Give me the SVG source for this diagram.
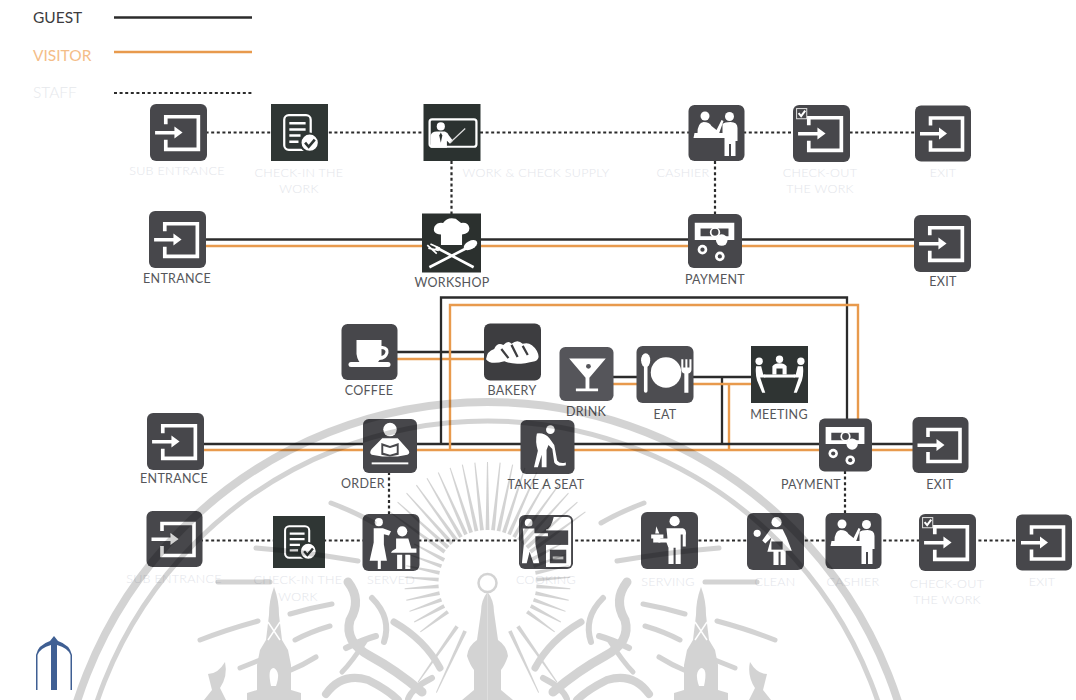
<svg xmlns="http://www.w3.org/2000/svg" xmlns:xlink="http://www.w3.org/1999/xlink" width="1076" height="700" viewBox="0 0 1076 700">
<style>
text{font-family:"Lato","Liberation Sans",sans-serif;font-size:12.500px;letter-spacing:.3px;text-anchor:middle}
.g{fill:#55565a}.s{fill:#e3e5ea;font-weight:300}
.k{stroke:#2b2b2b;stroke-width:2.300;fill:none}.o{stroke:#e89a4d;stroke-width:2.400;fill:none}.d{stroke:#2b2b2b;stroke-width:2.200;stroke-dasharray:3 2.600;fill:none}
.w{fill:#fff}
.wm{opacity:.17}
.st{fill:none;stroke:#000;stroke-linecap:round}
</style>
<defs>
<g id="arrow"><path d="M15.500 20V12.500H47.500V44.500H15.500V35" fill="none" stroke="#fff" stroke-width="3.600"/><path d="M5 26.500H24V22L32 28L24 34V30H5Z" fill="#fff"/></g>
<symbol id="i-exit" viewBox="0 0 56 56"><rect width="56" height="56" rx="6" fill="#47474b"/><use href="#arrow"/></symbol>
<symbol id="i-out" viewBox="0 0 56 56"><rect width="56" height="56" rx="6" fill="#47474b"/><use href="#arrow"/><rect x="3.500" y="3.500" width="10" height="10" fill="none" stroke="#ddd" stroke-width="1"/><path d="M5.500 8L8 11L12 5.500" stroke="#fff" stroke-width="2" fill="none"/></symbol>
<symbol id="i-doc" viewBox="0 0 56 56"><rect width="56" height="56" fill="#2f3634"/><rect x="13" y="11" width="26" height="34" rx="4.500" fill="none" stroke="#fff" stroke-width="2.200"/><path d="M18 19H34M18 25H34M18 31H29M18 37H27" stroke="#fff" stroke-width="2.400"/><circle cx="38" cy="38" r="9" fill="#fff" stroke="#2f3634" stroke-width="2"/><path d="M33.500 38L37 42L43 35" fill="none" stroke="#2f3634" stroke-width="2.600"/></symbol>
<symbol id="i-teach" viewBox="0 0 56 56"><rect width="56" height="56" fill="#2b3230"/><rect x="6" y="15" width="46" height="27" rx="2.500" fill="none" stroke="#fff" stroke-width="2.200"/><circle cx="17" cy="22" r="4" class="w"/><path d="M7 43V31Q8 27 13 27H21Q24 28 25 31L29 36L26 39L23 36V43Z" class="w"/><path d="M17 28L15.500 31L17 38L18.500 31Z" fill="#2b3230"/><path d="M26 38L41 24" stroke="#ddd" stroke-width="1.200"/></symbol>
<symbol id="i-cash" viewBox="0 0 56 56"><rect width="56" height="56" rx="6" fill="#47474b"/><circle cx="16.500" cy="11" r="4.500" class="w"/><circle cx="41" cy="11.500" r="4.500" class="w"/><path d="M9 28Q9 18 15 17Q21 17 23 21L28 25L33 15L35 16L30 30H9Z" class="w"/><path d="M6 28H34V19Q36 17 42 17Q49 17 49 23V36H47V51H42.500V39H40.500V51H36V33H5Z" class="w"/></symbol>
<symbol id="i-pay" viewBox="0 0 56 56"><rect width="56" height="56" rx="6" fill="#47474b"/><path d="M7 9H48V27H38V23H42V15H13V23H30V27H7Z" class="w"/><circle cx="28" cy="19" r="4.500" fill="none" stroke="#fff" stroke-width="1.800"/><circle cx="35" cy="27" r="6" class="w"/><circle cx="15" cy="37" r="5" class="w"/><circle cx="15" cy="37" r="2.200" fill="#47474b"/><circle cx="33" cy="44" r="5" class="w"/><circle cx="33" cy="44" r="2.200" fill="#47474b"/></symbol>
<symbol id="i-shop" viewBox="0 0 56 56"><rect width="56" height="56" fill="#2b302e"/><path d="M18 30V20Q9 19 12 12Q15 8 20 9Q24 3 32 5Q36 8 37 9Q44 8 45 14Q45 19 38 20V30Z" class="w"/><path d="M7 51L44 32M49 51L13 32" stroke="#fff" stroke-width="2.500"/><ellipse cx="46" cy="30" rx="7" ry="4" transform="rotate(-28 46 30)" class="w"/><path d="M6 33L16 35M8 29L17 33M5 30L14 38" stroke="#fff" stroke-width="1.600"/></symbol>
<symbol id="i-coffee" viewBox="0 0 56 56"><rect width="56" height="56" rx="6" fill="#47474b"/><path d="M15 16H40V22H41Q48 23 47 29Q45 36 38 36Q36 40 32 42H22Q16 38 15 30ZM40 25V32Q44 31 44 27Q43 25 40 25Z" class="w"/><rect x="7" y="38" width="42" height="5" rx="2.500" class="w"/></symbol>
<symbol id="i-bakery" viewBox="0 0 56 56"><rect width="56" height="56" rx="6" fill="#3d3d40"/><path d="M2 35Q3 27 10 25Q13 18 19 21Q24 16 27 20Q33 15 38 20Q46 17 52 27Q56 35 50 37Q30 42 20 37Q6 41 2 35Z" class="w"/><path d="M17 25L24 34M27 21L33 33M38 22L43 31" stroke="#3d3d40" stroke-width="2.200"/></symbol>
<symbol id="i-drink" viewBox="0 0 56 56"><rect width="56" height="56" rx="6" fill="#55555a"/><path d="M10 12H48L31 32V43H40V46H17V43H27V32Z" class="w"/><circle cx="30" cy="20" r="2.500" fill="#55555a"/></symbol>
<symbol id="i-eat" viewBox="0 0 56 56"><rect width="56" height="56" rx="6" fill="#4d4d51"/><ellipse cx="9" cy="14" rx="4.500" ry="7" class="w"/><rect x="7.300" y="18" width="3.500" height="28" rx="1.700" class="w"/><circle cx="29" cy="26" r="15" class="w"/><path d="M44 13V23Q44 26 47 27V46H51V27Q54 26 54 23V13H52V21H50V13H48V21H46V13Z" class="w"/></symbol>
<symbol id="i-meet" viewBox="0 0 56 56"><rect width="56" height="56" fill="#2f3433"/><circle cx="8" cy="15" r="3.600" class="w"/><circle cx="28" cy="13" r="3.600" class="w"/><circle cx="49" cy="15" r="3.600" class="w"/><path d="M21 28V20Q23 17 28 17Q33 17 35 20V28H31V22H25V28Z" class="w"/><rect x="13" y="28" width="30" height="3" class="w"/><path d="M5 20H10L12 28H14V31H9L14 46H11L6 34Q4 27 5 20ZM51 20H46L44 28H42V31H47L42 46H45L50 34Q52 27 51 20Z" class="w"/></symbol>
<symbol id="i-order" viewBox="0 0 56 56"><rect width="56" height="56" rx="6" fill="#47474b"/><circle cx="28" cy="11" r="7" class="w"/><path d="M20 20H36L46 31Q50 35 46 37L36 39H20L9 37Q6 35 9 31Z" class="w"/><path d="M19 25L28 28L37 25V37L28 39L19 37Z" fill="#47474b"/><path d="M21 28L28 30L35 28V35L28 37L21 35Z" class="w"/><rect x="9" y="45" width="38" height="2" class="w"/></symbol>
<symbol id="i-seat" viewBox="0 0 56 56"><rect width="56" height="56" rx="6" fill="#47474b"/><circle cx="31" cy="10" r="4.500" class="w"/><path d="M17 14Q25 13 30 19L35 26L38 42Q41 46 47 44L47 47Q38 49 35 44L33 30L29 26L27 31V49H22V36L18 49H14L18 32Q15 22 17 14Z" class="w"/></symbol>
<symbol id="i-served" viewBox="0 0 56 56"><rect width="56" height="56" rx="6" fill="#47474b"/><circle cx="16" cy="8" r="4" class="w"/><path d="M11 14H20L28 17L26 21L21 20V30L24 46H18V54H15V46H7L11 28Z" class="w"/><circle cx="39" cy="17" r="5" class="w"/><path d="M33 24H45L48 34H53V38H28Q29 36 33 34ZM34 40H39V54H34ZM42 40H47V54H42Z" class="w"/></symbol>
<symbol id="i-cook" viewBox="0 0 56 56"><rect width="56" height="56" rx="6" fill="#47474b"/><rect x="2" y="2" width="52" height="52" rx="4" fill="#fff"/><rect x="2" y="2" width="26" height="52" fill="#47474b"/><path d="M28 2V15Q33 15 36 2Z" fill="#47474b"/><rect x="27" y="16" width="24" height="15" fill="#47474b"/><rect x="32" y="36" width="17" height="14" fill="#47474b"/><rect x="35" y="43" width="11" height="3" fill="#bbb"/><circle cx="10" cy="8" r="4" class="w"/><path d="M4 14H16V19H30V22H17V30L21 50H15L11 38L8 50H3L5 30Z" class="w"/></symbol>
<symbol id="i-serve" viewBox="0 0 56 56"><rect width="56" height="56" rx="6" fill="#47474b"/><circle cx="33" cy="9" r="5" class="w"/><path d="M25 16H41Q45 17 44 23V34H41V22H39V51H34V35H32V51H27V35L25 30H17L18 26H26Z" class="w"/><path d="M10 22H22V26H19V30H12V26H10Z" class="w"/><path d="M14 21L15 14L18 21" class="w"/></symbol>
<symbol id="i-clean" viewBox="0 0 56 56"><rect width="56" height="56" rx="6" fill="#47474b"/><circle cx="29" cy="9" r="5" class="w"/><path d="M23 16H35L39 24L44 37H38V51H33V38H31V51H26V38H20L24 24L18 30L15 27Z" class="w"/><rect x="24" y="28" width="11" height="8" fill="#47474b"/><circle cx="10" cy="20" r="3.500" class="w"/></symbol>
<polygon id="ray" points="485.600,530 489.400,530 488,462 487,462"/>
<polygon id="ray2" points="485.600,534 489.400,534 488,500 487,500"/>
<g id="half">
<path class="st" stroke-width="5" d="M331 503Q355 512 374 523"/>
<path class="st" stroke-width="5" d="M256 548Q305 552 358 561"/>
<path class="st" stroke-width="5" d="M218 582H270"/>
<path class="st" stroke-width="5" d="M200 640Q225 630 258 621"/>
<path class="st" stroke-width="5" d="M290 614Q310 608 332 604"/>
<path class="st" stroke-width="5" d="M295 640Q310 632 330 626"/>
<path class="st" stroke-width="5" d="M240 668Q250 664 260 660"/>
<path class="st" stroke-width="5" d="M291 670Q303 665 316 657"/>
<path d="M274 587Q279 600 279 615L282 640L288 650L291 665V690L301 693V700H247V693L257 690V665L260 650L266 640L269 615Q269 600 274 587Z"/>
<path d="M271 686Q267 668 274 668Q281 672 276 686Z" fill="#fff"/>
<path d="M268 622L280 640M280 622L268 640" stroke="#fff" stroke-width="1.500"/>
<path d="M225 662Q218 674 208 674L212 690L204 700H226L220 688Q228 676 225 662Z"/>
<path class="st" stroke-width="9" d="M348 582Q362 600 350 620Q344 642 370 656Q396 670 422 692"/>
<path class="st" stroke-width="6" d="M372 598Q392 618 384 642"/>
<path class="st" stroke-width="7" d="M394 622Q425 640 440 668"/>
<path class="st" stroke-width="6" d="M346 648Q362 640 376 636"/>
<path class="st" stroke-width="8" d="M326 694Q342 672 368 680Q388 690 398 700"/>
<path class="st" stroke-width="6" d="M432 678Q412 688 408 699"/>
<path class="st" stroke-width="5" d="M366 640Q352 662 342 672"/>
<path d="M487.500 592Q481 600 481 612L477 640Q468 646 467 656Q470 665 474 670V690L462 700H487.500Z"/>
</g>
</defs>

<g id="legend">
<text x="33" y="23" style="text-anchor:start;font-size:15.500px;letter-spacing:0" fill="#3c3c40">GUEST</text>
<text x="33" y="61" style="text-anchor:start;font-size:15.500px;letter-spacing:0" fill="#f4bd88">VISITOR</text>
<text x="33" y="98" style="text-anchor:start;font-size:15.500px;letter-spacing:0;font-weight:300" fill="#e6e8ec">STAFF</text>
<path class="k" d="M114 17.500H252"/>
<path class="o" d="M114 52H252"/>
<path class="d" d="M114 93H252"/>
</g>

<g id="connectors">
<path class="d" d="M200 132.500H918M451.500 161V214M715 161V215"/>
<path class="k" d="M200 239.500H920"/>
<path class="o" d="M200 246H920"/>
<path class="k" d="M395 352H490"/>
<path class="o" d="M395 359H490"/>
<path class="k" d="M610 377H755M722 377V444"/>
<path class="o" d="M610 384H755M729 384V450"/>
<path class="k" d="M200 444H915M441 444V297.500H847V420"/>
<path class="o" d="M200 450H915M450 450V305H858V420"/>
<path class="d" d="M389 472V516M845 471V514M200 540.500H1020"/>
</g>

<g id="sub-entrance-1"><use href="#i-exit" x="150" y="104" width="57" height="57"/><text class="s" x="177" y="175">SUB ENTRANCE</text></g>
<g id="check-in-1"><use href="#i-doc" x="271" y="104" width="57" height="57"/><text class="s" x="299" y="177">CHECK-IN THE</text><text class="s" x="299" y="193">WORK</text></g>
<g id="work-check"><use href="#i-teach" x="423" y="104" width="58" height="57"/><text class="s" x="536" y="177">WORK &amp; CHECK SUPPLY</text></g>
<g id="cashier-1"><use href="#i-cash" x="688" y="105" width="57" height="56"/><text class="s" x="683" y="177">CASHIER</text></g>
<g id="check-out-1"><use href="#i-out" x="793" y="105" width="57" height="57"/><text class="s" x="820" y="177">CHECK-OUT</text><text class="s" x="820" y="193">THE WORK</text></g>
<g id="exit-1"><use href="#i-exit" x="915" y="105" width="56" height="57"/><text class="s" x="943" y="177">EXIT</text></g>

<g id="entrance-2"><use href="#i-exit" x="149" y="211" width="57" height="57"/><text class="g" x="177" y="283">ENTRANCE</text></g>
<g id="workshop"><use href="#i-shop" x="422" y="213" width="59" height="60"/><text class="g" x="452" y="287">WORKSHOP</text></g>
<g id="payment-2"><use href="#i-pay" x="688" y="214" width="54" height="54"/><text class="g" x="715" y="284">PAYMENT</text></g>
<g id="exit-2"><use href="#i-exit" x="914" y="215" width="57" height="57"/><text class="g" x="943" y="286">EXIT</text></g>

<g id="coffee"><use href="#i-coffee" x="341" y="324" width="57" height="56"/><text class="g" x="369" y="395">COFFEE</text></g>
<g id="bakery"><use href="#i-bakery" x="484" y="323" width="57" height="58"/><text class="g" x="512" y="395">BAKERY</text></g>
<g id="drink"><use href="#i-drink" x="559" y="347" width="55" height="54"/><text class="g" x="586" y="416">DRINK</text></g>
<g id="eat"><use href="#i-eat" x="636" y="346" width="58" height="57"/><text class="g" x="665" y="419">EAT</text></g>
<g id="meeting"><use href="#i-meet" x="751" y="346" width="57" height="57"/><text class="g" x="779" y="419">MEETING</text></g>
<g id="entrance-3"><use href="#i-exit" x="147" y="413" width="57" height="57"/><text class="g" x="174" y="483">ENTRANCE</text></g>
<g id="order"><use href="#i-order" x="363" y="419" width="54" height="54"/><text class="g" x="363" y="488">ORDER</text></g>
<g id="take-a-seat"><use href="#i-seat" x="520" y="420" width="55" height="54"/><text class="g" x="546" y="489">TAKE A SEAT</text></g>
<g id="payment-3"><use href="#i-pay" x="819" y="418" width="53" height="54"/><text class="g" x="811" y="489">PAYMENT</text></g>
<g id="exit-3"><use href="#i-exit" x="912" y="417" width="57" height="56"/><text class="g" x="940" y="489">EXIT</text></g>

<g id="sub-entrance-4"><use href="#i-exit" x="146" y="511" width="57" height="56"/><text class="s" x="174" y="583">SUB ENTRANCE</text></g>
<g id="check-in-4"><use href="#i-doc" x="273" y="516" width="52" height="52"/><text class="s" x="298" y="584">CHECK-IN THE</text><text class="s" x="298" y="601">WORK</text></g>
<g id="served"><use href="#i-served" x="362" y="514" width="58" height="57"/><text class="s" x="391" y="584">SERVED</text></g>
<g id="cooking"><use href="#i-cook" x="519" y="515" width="54" height="54"/><text class="s" x="546" y="584">COOKING</text></g>
<g id="serving"><use href="#i-serve" x="641" y="512" width="57" height="57"/><text class="s" x="668" y="586">SERVING</text></g>
<g id="clean"><use href="#i-clean" x="747" y="513" width="57" height="57"/><text class="s" x="775" y="586">CLEAN</text></g>
<g id="cashier-4"><use href="#i-cash" x="825" y="513" width="57" height="56"/><text class="s" x="853" y="586">CASHIER</text></g>
<g id="check-out-4"><use href="#i-out" x="919" y="514" width="57" height="57"/><text class="s" x="947" y="588">CHECK-OUT</text><text class="s" x="947" y="604">THE WORK</text></g>
<g id="exit-4"><use href="#i-exit" x="1016" y="514" width="56" height="57"/><text class="s" x="1042" y="586">EXIT</text></g>

<g id="logo" fill="#3f5f93"><path d="M36 655Q38 645 50 641L54 636L58 641Q70 645 72 655V690H70.500V655Q68 648 57 645V690H51V645Q40 648 37.500 655V690H36Z"/></g>

<g id="watermark" class="wm">
<circle class="st" cx="487.500" cy="833" r="431" stroke-width="8"/>
<circle class="st" cx="487.500" cy="833" r="412" stroke-width="5"/>
<circle class="st" cx="487.500" cy="583" r="9" stroke-width="2.500"/>
<use href="#half"/><use href="#half" transform="translate(975 0) scale(-1 1)"/>
<use href="#ray"/>
<use href="#ray" transform="rotate(6 487.500 583)"/><use href="#ray" transform="rotate(-6 487.500 583)"/>
<use href="#ray" transform="rotate(12 487.500 583)"/><use href="#ray" transform="rotate(-12 487.500 583)"/>
<use href="#ray" transform="rotate(18 487.500 583)"/><use href="#ray" transform="rotate(-18 487.500 583)"/>
<use href="#ray" transform="rotate(24 487.500 583)"/><use href="#ray" transform="rotate(-24 487.500 583)"/>
<use href="#ray" transform="rotate(30 487.500 583)"/><use href="#ray" transform="rotate(-30 487.500 583)"/>
<use href="#ray" transform="rotate(36 487.500 583)"/><use href="#ray" transform="rotate(-36 487.500 583)"/>
<use href="#ray" transform="rotate(42 487.500 583)"/><use href="#ray" transform="rotate(-42 487.500 583)"/>
<use href="#ray" transform="rotate(48 487.500 583)"/><use href="#ray" transform="rotate(-48 487.500 583)"/>
<use href="#ray" transform="rotate(54 487.500 583)"/><use href="#ray" transform="rotate(-54 487.500 583)"/>
<use href="#ray2" transform="rotate(62 487.500 583)"/><use href="#ray2" transform="rotate(-62 487.500 583)"/>
<use href="#ray2" transform="rotate(70 487.500 583)"/><use href="#ray2" transform="rotate(-70 487.500 583)"/>
<use href="#ray2" transform="rotate(78 487.500 583)"/><use href="#ray2" transform="rotate(-78 487.500 583)"/>
<use href="#ray2" transform="rotate(86 487.500 583)"/><use href="#ray2" transform="rotate(-86 487.500 583)"/>
<use href="#ray2" transform="rotate(94 487.500 583)"/><use href="#ray2" transform="rotate(-94 487.500 583)"/>
<use href="#ray2" transform="rotate(102 487.500 583)"/><use href="#ray2" transform="rotate(-102 487.500 583)"/>
<use href="#ray2" transform="rotate(110 487.500 583)"/><use href="#ray2" transform="rotate(-110 487.500 583)"/>
<use href="#ray2" transform="rotate(118 487.500 583)"/><use href="#ray2" transform="rotate(-118 487.500 583)"/>
<use href="#ray2" transform="rotate(126 487.500 583)"/><use href="#ray2" transform="rotate(-126 487.500 583)"/>
<use href="#ray" transform="rotate(145 487.500 583)"/><use href="#ray" transform="rotate(-145 487.500 583)"/>
<use href="#ray" transform="rotate(155 487.500 583)"/><use href="#ray" transform="rotate(-155 487.500 583)"/>
</g>
</svg>
